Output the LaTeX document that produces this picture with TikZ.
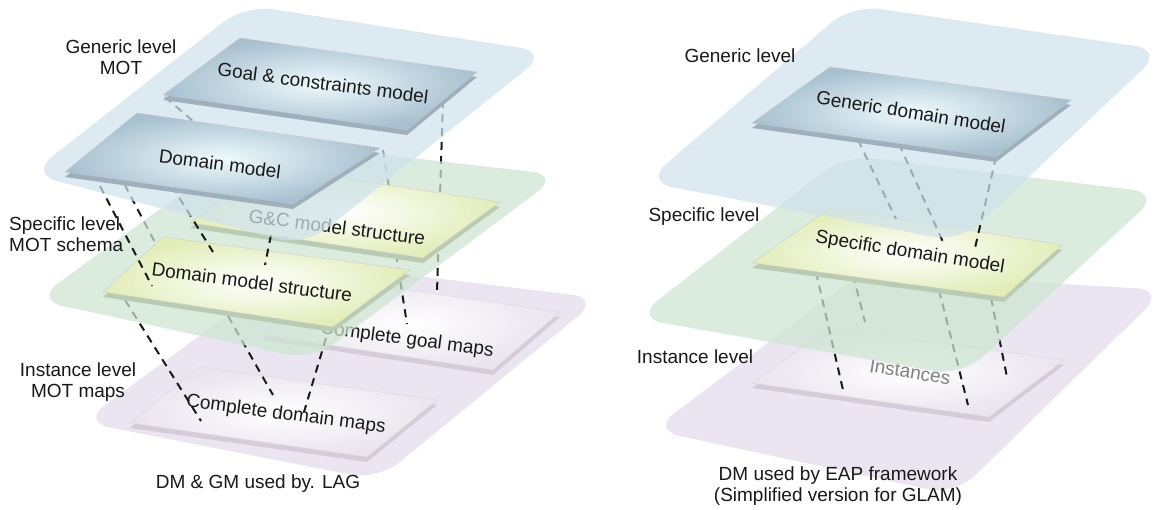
\documentclass[tikz,border=0pt]{standalone}
\usepackage{fontspec}
\setmainfont{Liberation Sans}
\definecolor{plateblue}{RGB}{208,226,236}
\definecolor{plategreen}{RGB}{206,229,210}
\definecolor{platepurple}{RGB}{234,229,240}
\definecolor{bpin}{RGB}{238,250,253}
\definecolor{bpout}{RGB}{168,192,207}
\definecolor{gpout}{RGB}{226,237,184}
\definecolor{ppout}{RGB}{234,228,238}
\definecolor{bslabc}{RGB}{158,176,189}
\definecolor{gslabc}{RGB}{186,203,180}
\definecolor{pslabc}{RGB}{212,205,217}
\definecolor{ink}{RGB}{25,25,25}
\newcommand{\slabpanel}[6]{%
  \fill[#2, shift={(0,5)}] (#3) -- (#4) -- (#5) -- (#6) -- cycle;
  \path[shade, #1] (#3) -- (#4) -- (#5) -- (#6) -- cycle;
}
\begin{document}
\begin{tikzpicture}[x=1pt,y=-1pt,
  bplate/.style={fill=plateblue, fill opacity=0.72, rounded corners=28pt},
  gplate/.style={fill=plategreen, fill opacity=0.72, rounded corners=28pt},
  pplate/.style={fill=platepurple, rounded corners=28pt},
  bpanel/.style={inner color=bpin, outer color=bpout, draw=white!55!gray, dash pattern=on 2pt off 1.5pt, line width=0.5pt},
  gpanel/.style={inner color=white, outer color=gpout, draw=white!60!gray, line width=0.4pt},
  ppanel/.style={inner color=white, outer color=ppout, draw=white!70!gray, line width=0.4pt},
  link/.style={draw=ink, line width=2pt, dash pattern=on 8pt off 6pt},
  ptext/.style={font=\fontsize{19}{22}\selectfont, text=ink, inner sep=0pt},
  lvl/.style={font=\fontsize{19}{20.5}\selectfont, text=ink, align=center, inner sep=0pt},
]
\useasboundingbox (0,0) rectangle (1155,509);
\fill[white] (0,0) rectangle (1155,509);

% ================= LEFT =================
% instance level
\path[pplate] (300,262) -- (600,298) -- (378,480) -- (82,422) -- cycle;
\slabpanel{ppanel}{pslabc}{320,277}{560,312}{493,370}{263,335}
\node[ptext, rotate=-7.5] (cgm) at (407,340) {Complete goal maps};
\slabpanel{ppanel}{pslabc}{200,367}{437,400}{367,457}{130,423}
\node[ptext, rotate=-7.5] (cdm) at (286,415) {Complete domain maps};

% links specific -> instance (left)
\coordinate (li1) at (443,100); \coordinate (li2) at (437,292);
\coordinate (ll1) at (383,150); \coordinate (ll2) at (391,200);
\coordinate (lc1) at (118,172); \coordinate (lc2) at (160,252);
\coordinate (le1) at (125,300); \coordinate (le2) at (201,421);
\coordinate (lf1) at (228,316); \coordinate (lf2) at (273,395);
\coordinate (lh1) at (326,338); \coordinate (lh2) at (304,412);
\coordinate (lj1) at (396,254); \coordinate (lj2) at (407,324);
\draw[link] (li1) -- (li2);
\draw[link] (ll1) -- (ll2);
\draw[link] (lc1) -- (lc2);
\draw[link] (le1) -- (le2);
\draw[link] (lf1) -- (lf2);
\draw[link] (lh1) -- (lh2);
\draw[link] (lj1) -- (lj2);

% specific level
\path[gplate] (255,140) -- (560,175) -- (312,360) -- (35,300) -- cycle;
\slabpanel{gpanel}{gslabc}{267,167}{500,202}{423,258}{190,223}
\node[ptext, rotate=-7.5] (gcs) at (337,227) {G\&C model structure};
\slabpanel{gpanel}{gslabc}{163,237}{410,270}{333,327}{103,292}
\node[ptext, rotate=-7.5] (dms) at (252,282) {Domain model structure};

% links generic -> specific (left)
\coordinate (la1) at (165,97);  \coordinate (la2) at (215,140);
\coordinate (lb1) at (100,186); \coordinate (lb2) at (152,286);
\coordinate (ld1) at (172,186); \coordinate (ld2) at (213,252);
\coordinate (lg1) at (271,235); \coordinate (lg2) at (265,265);
\draw[link] (la1) -- (la2);
\draw[link] (lb1) -- (lb2);
\draw[link] (ld1) -- (ld2);
\draw[link] (lg1) -- (lg2);

% generic level
\path[bplate] (245,5) -- (548,52) -- (305,246) -- (30,174) -- cycle;
\slabpanel{bpanel}{bslabc}{240,38}{477,72}{407,130}{163,95}
\node[ptext, rotate=-7.5] (goal) at (323,83) {Goal \& constraints model};
\slabpanel{bpanel}{bslabc}{137,113}{380,148}{293,204}{65,172}
\node[ptext, rotate=-7.5] (dm) at (220,164) {Domain model};

% labels left
\node[lvl] (lgen) at (121,57) {Generic level\\MOT};
\node[lvl, align=left, anchor=west] (lspe) at (9,234) {Specific level\\MOT schema};
\node[lvl] (lins) at (78,382) {Instance level\\MOT maps};
\node[lvl] (lcap) at (258,484) {DM \& GM used by. LAG};

% ================= RIGHT =================
\path[pplate] (862,272) -- (1165,290) -- (955,495) -- (652,430) -- cycle;
\slabpanel{ppanel}{pslabc}{830,328}{1064,360}{989,417}{752,383}
\node[ptext, rotate=-9, text=ink!55] (inst) at (910,372) {Instances};

\coordinate (r4a) at (816,272); \coordinate (r4b) at (843,390);
\coordinate (r5a) at (853,275); \coordinate (r5b) at (865,322);
\coordinate (r6a) at (939,290); \coordinate (r6b) at (968,405);
\coordinate (r7a) at (991,298); \coordinate (r7b) at (1007,377);
\draw[link] (r4a) -- (r4b);
\draw[link] (r5a) -- (r5b);
\draw[link] (r6a) -- (r6b);
\draw[link] (r7a) -- (r7b);

\path[gplate] (845,155) -- (1160,193) -- (962,376) -- (635,318) -- cycle;
\slabpanel{gpanel}{gslabc}{830,208}{1062,245}{1004,297}{752,263}
\node[ptext, rotate=-9] (sdm) at (910,253) {Specific domain model};

\coordinate (r1a) at (858,140); \coordinate (r1b) at (896,219);
\coordinate (r2a) at (899,144); \coordinate (r2b) at (943,242);
\coordinate (r3a) at (996,157); \coordinate (r3b) at (975,248);
\draw[link] (r1a) -- (r1b);
\draw[link] (r2a) -- (r2b);
\draw[link] (r3a) -- (r3b);

\path[bplate] (852,5) -- (1163,50) -- (960,242) -- (645,182) -- cycle;
\slabpanel{bpanel}{bslabc}{830,67}{1071,100}{996,157}{752,123}
\node[ptext, rotate=-9] (gdm) at (911,112) {Generic domain model};

% labels right
\node[lvl] (rgen) at (740,56) {Generic level};
\node[lvl] (rspe) at (704,217) {Specific level};
\node[lvl] (rins) at (695,357) {Instance level};
\node[lvl] (rcap) at (838,486) {DM used by EAP framework\\(Simplified version for GLAM)};
\end{tikzpicture}
\end{document}
